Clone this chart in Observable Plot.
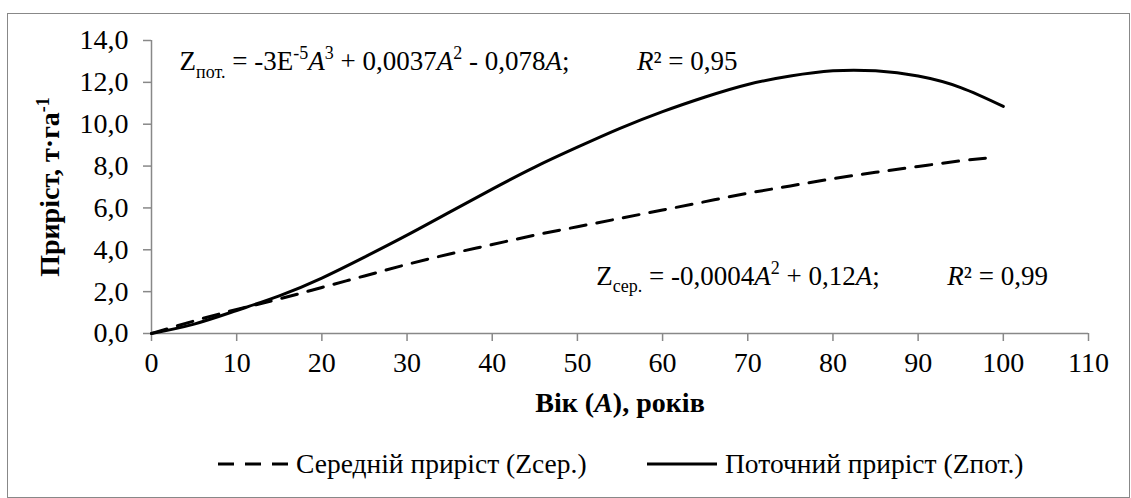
<!DOCTYPE html>
<html>
<head>
<meta charset="utf-8">
<script src="https://cdn.jsdelivr.net/npm/d3@7"></script>
<script src="https://cdn.jsdelivr.net/npm/@observablehq/plot@0.6"></script>
<style>
  html, body { margin: 0; padding: 0; background: #fff; }
  body { width: 1131px; height: 498px; position: relative; overflow: hidden;
         font-family: "Liberation Serif", "Times New Roman", serif; }
  #frame { position: absolute; left: 7px; top: 13px; width: 1123px; height: 485px;
           border: 1.5px solid #888; box-sizing: border-box; }
  #chart { position: absolute; left: 0; top: 0; }
  #chart svg text { white-space: pre; font-family: "Liberation Serif", "Times New Roman", serif; }
  .legend-item { position: absolute; top: 447px; height: 34px; display: flex; align-items: center;
                 font-size: 27.5px; color: #000; white-space: nowrap; }
  .legend-item svg { display: block; margin-right: 8px; }
</style>
</head>
<body>
<div id="frame"></div>
<div id="chart"></div>
<div id="legend"></div>
<script>
// ---- data ----
const currentAge   = [0, 5, 10, 15, 20, 25, 30, 35, 40, 45, 50, 55, 60, 65, 70, 75, 80, 85, 90, 95, 100];
const currentValue = [0, 0.45, 1.1, 1.8, 2.65, 3.65, 4.7, 5.8, 6.9, 7.95, 8.9, 9.8, 10.6, 11.3, 11.9, 12.3, 12.55, 12.55, 12.3, 11.75, 10.85];
const meanAge      = [0, 5, 10, 15, 20, 25, 30, 35, 40, 45, 50, 55, 60, 65, 70, 75, 80, 85, 90, 95, 99];
const meanValue    = [0, 0.6, 1.15, 1.65, 2.2, 2.75, 3.3, 3.8, 4.25, 4.7, 5.1, 5.5, 5.9, 6.3, 6.7, 7.05, 7.4, 7.7, 7.98, 8.25, 8.42];
const xTicks = [0, 10, 20, 30, 40, 50, 60, 70, 80, 90, 100, 110];
const yTicks = [0, 2, 4, 6, 8, 10, 12, 14];
const seriesNames = ["Середній приріст (Zсер.)", "Поточний приріст (Zпот.)"];
const xLabelParts = [["Вік ("], ["A", "it"], ["), років"]];
const yLabelParts = [["Приріст, т·га"], ["-1", "sup"]];
const eqCurrentParts = [["Z"], ["пот.", "sub"], [" = -3E"], ["-5", "sup"], ["A", "it"], ["3", "sup"],
  [" + 0,0037"], ["A", "it"], ["2", "sup"], [" - 0,078"], ["A", "it"], [";          "], ["R", "it"], ["² = 0,95"]];
const eqMeanParts = [["Z"], ["сер.", "sub"], [" = -0,0004"], ["A", "it"], ["2", "sup"], [" + 0,12"], ["A", "it"],
  [";          "], ["R", "it"], ["² = 0,99"]];

const current = currentAge.map((a, i) => ({age: a, value: currentValue[i]}));
const mean = meanAge.map((a, i) => ({age: a, value: meanValue[i]}));

const FS = 27;
const TFS = 28;
const AXIS = "#888";
const fmt = d => d.toFixed(1).replace(".", ",");
const join = parts => parts.map(p => p[0]).join("");

const chart = Plot.plot({
  width: 1131,
  height: 430,
  marginLeft: 151,
  marginRight: 43,
  marginTop: 40,
  marginBottom: 97,
  style: {fontFamily: '"Liberation Serif", "Times New Roman", serif', fontSize: FS + "px", color: "#000", background: "transparent", overflow: "visible"},
  x: {domain: [0, 110]},
  y: {domain: [0, 14]},
  marks: [
    Plot.axisX({ticks: xTicks, tickSize: 8, tickPadding: 11, tickFormat: d => String(d), fontSize: TFS,
      label: "Вік (A), років", labelAnchor: "center", labelOffset: 78, labelArrow: "none"}),
    Plot.axisY({ticks: yTicks, tickSize: 8, tickPadding: 15, tickFormat: fmt, fontSize: TFS,
      label: "Приріст, т·га-1", labelAnchor: "center", labelOffset: 112, labelArrow: "none"}),
    Plot.ruleY([0], {stroke: AXIS, strokeWidth: 1.5}),
    Plot.ruleX([0], {stroke: AXIS, strokeWidth: 1.5}),
    Plot.line(mean, {x: "age", y: "value", curve: "natural", stroke: "#000", strokeWidth: 3, strokeDasharray: "16,11"}),
    Plot.line(current, {x: "age", y: "value", curve: "natural", stroke: "#000", strokeWidth: 3}),
    Plot.text([{a: 3.3, v: 13.0}], {x: "a", y: "v", text: () => join(eqCurrentParts),
      textAnchor: "start", lineAnchor: "middle", fontSize: FS, fill: "#000"}),
    Plot.text([{a: 52.2, v: 2.75}], {x: "a", y: "v", text: () => join(eqMeanParts),
      textAnchor: "start", lineAnchor: "middle", fontSize: FS, fill: "#000"})
  ]
});
document.getElementById("chart").appendChild(chart);

// rich text (sub/superscripts, italics) for equations and axis labels
function rich(textEl, parts, fs) {
  const sel = d3.select(textEl);
  sel.text(null);
  let shift = 0;
  for (const [t, kind] of parts) {
    const target = kind === "sub" ? 0.28 * fs : kind === "sup" ? -0.4 * fs : 0;
    const ts = sel.append("tspan").text(t);
    if (target !== shift) ts.attr("dy", target - shift);
    shift = target;
    if (kind === "sub" || kind === "sup") ts.attr("font-size", Math.round(fs * 0.66));
    if (kind === "it") ts.attr("font-style", "italic");
  }
}
const svgNode = chart.tagName.toLowerCase() === "svg" ? chart : chart.querySelector("svg");
const svg = d3.select(svgNode);
const eqCurrentText = join(eqCurrentParts);
const eqMeanText = join(eqMeanParts);
svg.selectAll("text").each(function() {
  const c = this.textContent;
  if (c === eqCurrentText) rich(this, eqCurrentParts, FS);
  else if (c === eqMeanText) rich(this, eqMeanParts, FS);
});
svg.selectAll('g[aria-label="x-axis label"] text').each(function() { rich(this, xLabelParts, FS); })
  .attr("font-weight", "bold");
svg.selectAll('g[aria-label="y-axis label"] text').each(function() { rich(this, yLabelParts, FS); })
  .attr("font-weight", "bold");
svg.selectAll('g[aria-label="x-axis tick"] path, g[aria-label="y-axis tick"] path')
  .attr("stroke", AXIS).attr("stroke-width", 1.5);

// legend
const legend = document.getElementById("legend");
const legendSpec = [
  {name: seriesNames[0], dash: "16,11", left: 218},
  {name: seriesNames[1], dash: null, left: 647}
];
for (const s of legendSpec) {
  const item = document.createElement("div");
  item.className = "legend-item";
  item.style.left = s.left + "px";
  const sw = d3.create("svg").attr("width", 70).attr("height", 10);
  sw.append("line").attr("x1", 0).attr("x2", 70).attr("y1", 5).attr("y2", 5)
    .attr("stroke", "#000").attr("stroke-width", 3).attr("stroke-dasharray", s.dash);
  item.appendChild(sw.node());
  const span = document.createElement("span");
  span.textContent = s.name;
  item.appendChild(span);
  legend.appendChild(item);
}
</script>
</body>
</html>
